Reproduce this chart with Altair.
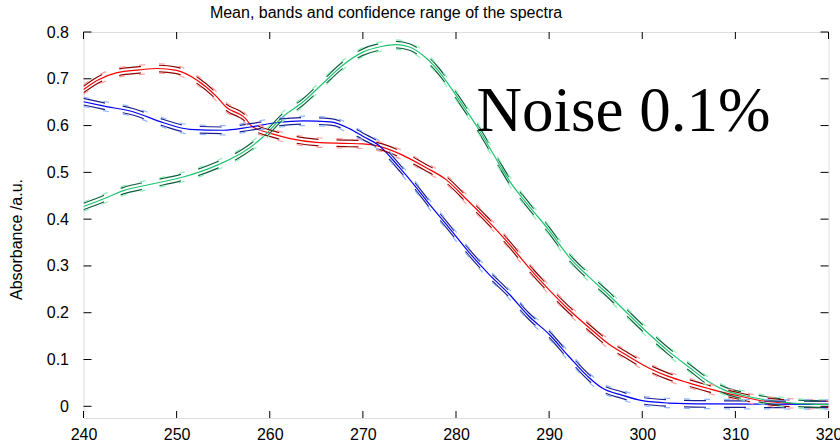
import altair as alt
import pandas as pd

# ---------------- data ----------------
x_ticks = [240, 250, 260, 270, 280, 290, 300, 310, 320]
y_ticks = [0, 0.1, 0.2, 0.3, 0.4, 0.5, 0.6, 0.7, 0.8]

red_x = [240.0, 241.5, 243.6, 246.0, 247.9, 250.0, 252.2, 254.3, 255.4, 256.8, 257.4, 258.0,
         259.0, 260.0, 262.2, 265.0, 267.9, 270.0, 271.7, 273.9, 276.7, 278.9, 281.2, 283.4,
         285.7, 287.8, 290.0, 292.1, 294.3, 296.4, 298.5, 300.7, 302.8, 305.0, 307.1, 308.2,
         310.4, 312.5, 315.4, 320.0]
red_y = [0.677, 0.697, 0.713, 0.719, 0.722, 0.718, 0.697, 0.662, 0.638, 0.624, 0.615, 0.600,
         0.590, 0.584, 0.572, 0.564, 0.562, 0.561, 0.556, 0.540, 0.511, 0.485, 0.441, 0.397,
         0.347, 0.297, 0.249, 0.207, 0.168, 0.133, 0.107, 0.082, 0.064, 0.050, 0.038, 0.032,
         0.022, 0.013, 0.007, 0.004]

blue_x = [240.0, 242.1, 245.4, 248.6, 251.4, 255.0, 257.9, 260.7, 263.6, 266.5, 268.6, 270.0,
          271.7, 273.9, 276.0, 277.1, 279.2, 281.4, 283.5, 285.7, 287.8, 290.0, 292.1, 294.3,
          295.7, 297.8, 300.0, 302.8, 307.0, 320.0]
blue_y = [0.651, 0.642, 0.629, 0.606, 0.592, 0.590, 0.597, 0.606, 0.610, 0.608, 0.593, 0.577,
          0.558, 0.511, 0.461, 0.433, 0.383, 0.329, 0.283, 0.240, 0.193, 0.154, 0.107, 0.061,
          0.039, 0.024, 0.012, 0.007, 0.005, 0.004]

green_x = [240.0, 242.1, 244.3, 247.1, 250.7, 254.3, 257.2, 259.3, 261.4, 263.6, 265.7, 267.9,
           270.0, 272.0, 273.5, 275.0, 276.7, 278.2, 280.3, 282.5, 284.6, 285.7, 287.8, 290.0,
           292.1, 294.3, 296.4, 298.5, 300.7, 302.8, 305.0, 307.0, 308.9, 311.1, 313.2, 316.1,
           320.0]
green_y = [0.427, 0.443, 0.461, 0.474, 0.490, 0.515, 0.544, 0.576, 0.619, 0.651, 0.690, 0.730,
           0.757, 0.769, 0.773, 0.768, 0.746, 0.715, 0.656, 0.590, 0.519, 0.483, 0.429, 0.376,
           0.320, 0.276, 0.238, 0.197, 0.155, 0.118, 0.084, 0.054, 0.034, 0.022, 0.014, 0.007,
           0.004]

spectra = ["red", "blue", "green"]
spectra_x = [red_x, blue_x, green_x]
spectra_y = [red_y, blue_y, green_y]
band_half = [0.007, 0.007, 0.007]        # inner (dark dashed) band half-width
conf_half = [0.010, 0.010, 0.010]        # outer (light dashed) confidence half-width

mean_colors = ["#ff0000", "#0000ff", "#1fc471"]
band_colors = ["#8b0000", "#1a1f8f", "#0e5f3c"]
conf_colors = ["#ffa0a0", "#8fb8ff", "#8ff0b8"]

title_text = "Mean, bands and confidence range of the spectra"
y_title = "Absorbance /a.u."
note_x = [282.2]
note_y = [0.588]
note_text = ["Noise 0.1%"]

# ---------------- build tables ----------------
rows = []
keys, cols = [], []
for i, name in enumerate(spectra):
    keys += [f"{name}_mean", f"{name}_band", f"{name}_conf"]
    cols += [mean_colors[i], band_colors[i], conf_colors[i]]
    for xv, yv in zip(spectra_x[i], spectra_y[i]):
        rows.append(dict(x=xv, y=yv, key=f"{name}_mean", style="mean", side="m"))
        rows.append(dict(x=xv, y=yv + band_half[i], key=f"{name}_band", style="band", side="up"))
        rows.append(dict(x=xv, y=yv - band_half[i], key=f"{name}_band", style="band", side="lo"))
        rows.append(dict(x=xv, y=yv + conf_half[i], key=f"{name}_conf", style="conf", side="up"))
        rows.append(dict(x=xv, y=yv - conf_half[i], key=f"{name}_conf", style="conf", side="lo"))
df = pd.DataFrame(rows)

W, H = 745, 386
FONT = "Liberation Sans"

xenc = alt.X("x:Q",
             scale=alt.Scale(domain=[240, 320], nice=False, zero=False),
             axis=alt.Axis(values=x_ticks, format="d", title=None, grid=False, ticks=False,
                           tickSize=0, domain=False, labelFontSize=16, labelFont=FONT,
                           labelColor="black", labelPadding=8, labelFlush=False))
yenc = alt.Y("y:Q",
             scale=alt.Scale(domain=[-0.025, 0.8], nice=False, zero=False),
             axis=alt.Axis(values=y_ticks, format=".1~f", title=y_title, grid=False, ticks=False,
                           tickSize=0, domain=False, labelFontSize=16, labelFont=FONT,
                           labelColor="black", labelPadding=15,
                           titleFont=FONT, titleFontSize=16, titleFontWeight="normal",
                           titleColor="black", titleAngle=270, titleAlign="center",
                           titleBaseline="middle", titleX=-67.5, titleY=207))
cenc = alt.Color("key:N", scale=alt.Scale(domain=keys, range=cols), legend=None)

base = alt.Chart(df)
means = base.transform_filter("datum.style == 'mean'").mark_line(
    strokeWidth=1.2, interpolate="monotone", clip=True
).encode(x=xenc, y=yenc, color=cenc, detail="side:N")
bands = base.transform_filter("datum.style == 'band'").mark_line(
    strokeWidth=1.2, strokeDash=[22, 18], interpolate="monotone", clip=True
).encode(x=xenc, y=yenc, color=cenc, detail="side:N")
confs = base.transform_filter("datum.style == 'conf'").mark_line(
    strokeWidth=1.2, strokeDash=[6, 14], interpolate="monotone", clip=True
).encode(x=xenc, y=yenc, color=cenc, detail="side:N")

ytick_df = pd.DataFrame({"y": y_ticks})
xtick_df = pd.DataFrame({"x": x_ticks})
ytl = alt.Chart(ytick_df).mark_rule(color="black", strokeWidth=1).encode(
    y=yenc, x=alt.value(0), x2=alt.value(8))
ytr = alt.Chart(ytick_df).mark_rule(color="black", strokeWidth=1).encode(
    y=yenc, x=alt.value(W - 8), x2=alt.value(W))
xtb = alt.Chart(xtick_df).mark_rule(color="black", strokeWidth=1).encode(
    x=xenc, y=alt.value(H - 7), y2=alt.value(H))
xtt = alt.Chart(xtick_df).mark_rule(color="black", strokeWidth=1).encode(
    x=xenc, y=alt.value(0), y2=alt.value(7))

note = alt.Chart(pd.DataFrame({"x": note_x, "y": note_y, "label": note_text})).mark_text(
    font="Liberation Serif", fontSize=63, align="left", baseline="alphabetic", color="black"
).encode(x=xenc, y=yenc, text="label:N")

chart = alt.layer(means, bands, confs, ytl, ytr, xtb, xtt, note).properties(
    width=W, height=H,
    autosize=alt.AutoSizeParams(type="none"),
    padding={"left": 83.5, "top": 32, "right": 11.5, "bottom": 28},
    title=alt.Title(title_text, font=FONT, fontSize=16, fontWeight="normal", color="black",
                    anchor="middle", frame="group", dx=-70, dy=21, offset=11,
                    baseline="alphabetic"),
).configure_view(stroke="black", strokeWidth=1).configure(background="white")

chart.save("out.html", embed_options={"renderer": "svg", "actions": False})
